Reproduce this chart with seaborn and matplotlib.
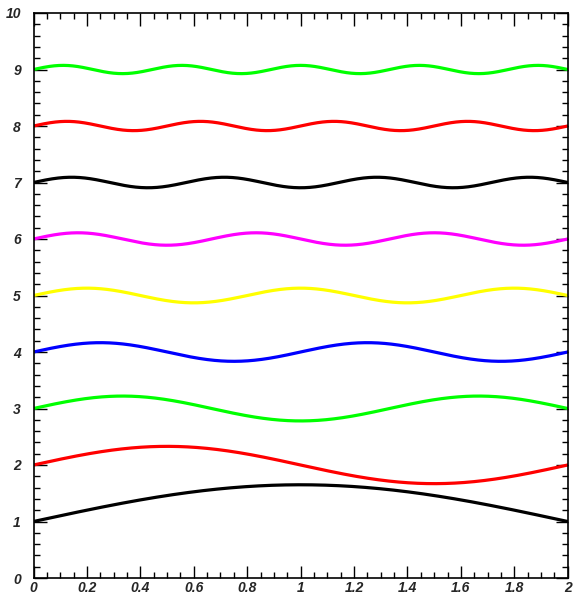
import numpy as np
import pandas as pd
import seaborn as sns
import matplotlib.pyplot as plt
from matplotlib.ticker import MultipleLocator

# Curve parameters
offsets = [1, 2, 3, 4, 5, 6, 7, 8, 9]
amplitudes = [0.65, 0.33, 0.22, 0.165, 0.13, 0.11, 0.093, 0.082, 0.073]
half_cycles = [1, 2, 3, 4, 5, 6, 7, 8, 9]   # number of half periods over 0..2
colors = ["#000000", "#ff0000", "#00ff00", "#0000ff", "#ffff00",
          "#ff00ff", "#000000", "#ff0000", "#00ff00"]
x_ticks = [0, 0.2, 0.4, 0.6, 0.8, 1, 1.2, 1.4, 1.6, 1.8, 2]
x_tick_labels = ["0", "0.2", "0.4", "0.6", "0.8", "1", "1.2", "1.4", "1.6", "1.8", "2"]
y_ticks = list(range(0, 11))

x = np.linspace(0, 2, 801)
frames = []
for i, (o, a, n) in enumerate(zip(offsets, amplitudes, half_cycles)):
    frames.append(pd.DataFrame({"x": x, "y": o + a * np.sin(n * np.pi * x / 2), "curve": i}))
df = pd.concat(frames, ignore_index=True)

sns.set_style("white")
plt.rcParams['font.family'] = ['Liberation Sans', 'DejaVu Sans']

fig = plt.figure(figsize=(5.74, 5.98), dpi=100)
ax = fig.add_axes([33.5 / 574, 1 - 578 / 598, (567.7 - 33.5) / 574, (578 - 13) / 598])

sns.lineplot(data=df, x="x", y="y", hue="curve", palette=colors, linewidth=2.3,
             legend=False, ax=ax, estimator=None, sort=False)

ax.set_xlim(0, 2)
ax.set_ylim(0, 10)
ax.set_xlabel("")
ax.set_ylabel("")
ax.set_xticks(x_ticks)
ax.set_xticklabels(x_tick_labels)
ax.set_yticks(y_ticks)
ax.xaxis.set_minor_locator(MultipleLocator(0.05))
ax.yaxis.set_minor_locator(MultipleLocator(0.2))
ax.tick_params(which="both", direction="in", top=True, right=True, bottom=True, left=True,
               color="black", width=1)
ax.tick_params(which="major", length=9)
ax.tick_params(which="minor", length=4.5)
for lab in ax.get_xticklabels() + ax.get_yticklabels():
    lab.set_fontweight("bold")
    lab.set_fontstyle("italic")
    lab.set_fontsize(10)
ax.tick_params(axis="x", pad=2.5)
ax.tick_params(axis="y", pad=9)
for s in ax.spines.values():
    s.set_color("black")
    s.set_linewidth(1.2)

fig.savefig("out.png", dpi=100)
